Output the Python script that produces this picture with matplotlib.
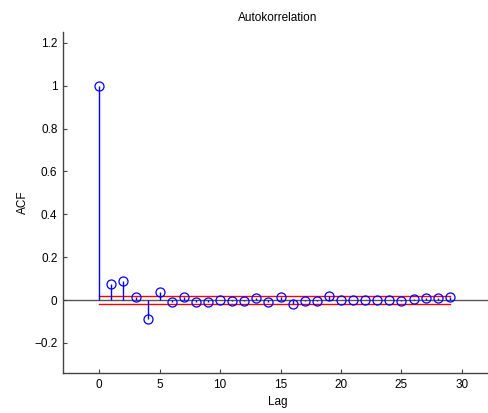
import numpy as np
import matplotlib
matplotlib.use("Agg")
import matplotlib.pyplot as plt

plt.rcParams['font.family'] = ['Liberation Sans', 'DejaVu Sans']

# autocorrelation values per lag
lags = list(range(30))
acf = [1.0, 0.074, 0.09, 0.012, -0.09, 0.036, -0.008, 0.014, -0.009, -0.008,
       0.0, -0.005, -0.006, 0.008, -0.009, 0.014, -0.017, -0.006, -0.006, 0.019,
       -0.002, 0.0, 0.0, 0.0, 0.0, -0.003, 0.003, 0.011, 0.011, 0.015]
bound = 0.02
xticks = [0, 5, 10, 15, 20, 25, 30]
yticks = [-0.2, 0, 0.2, 0.4, 0.6, 0.8, 1, 1.2]

fig = plt.figure(figsize=(4.89, 4.13), dpi=100)
ax = fig.add_axes([0.1288, 0.0969, 0.88, 0.8256])

ax.axhline(0, color='#555555', lw=1.0, zorder=1)
ax.plot([0, 29], [bound, bound], color='red', lw=1.0, zorder=2)
ax.plot([0, 29], [-bound, -bound], color='red', lw=1.0, zorder=2)

ax.vlines(lags, 0, acf, color='#0000ff', lw=1.0, zorder=3)
ax.plot(lags, acf, 'o', mfc='none', mec='#0000ff', ms=6.5, mew=0.9, zorder=4)

ax.set_xlim(-3, 32.6)
ax.set_ylim(-0.34, 1.25)
ax.set_xticks(xticks)
ax.set_xticklabels([str(t) for t in xticks])
ax.set_yticks(yticks)
ax.set_yticklabels(['\u22120.2', '0', '0.2', '0.4', '0.6', '0.8', '1', '1.2'])

for s in ['top', 'right']:
    ax.spines[s].set_visible(False)
for s in ['left', 'bottom']:
    ax.spines[s].set_color('#444444')
    ax.spines[s].set_linewidth(1.0)
ax.tick_params(direction='in', length=3, color='#444444', labelsize=8.5, pad=4)

ax.set_title('Autokorrelation', fontsize=8.5, pad=8)
ax.set_xlabel('Lag', fontsize=8.5, labelpad=4)
ax.set_ylabel('ACF', fontsize=8.5, labelpad=4)

fig.savefig('out.png', dpi=100)
